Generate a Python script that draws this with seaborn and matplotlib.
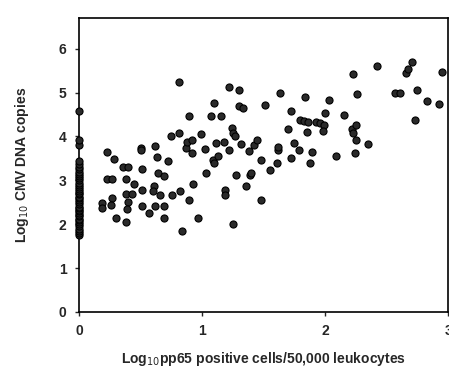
import numpy as np
import pandas as pd
import matplotlib.pyplot as plt
import seaborn as sns

# patients with no pp65 positive cells (x = 0)
zero_y = [1.75, 1.8, 1.85, 1.9, 1.95, 2.0, 2.05, 2.1, 2.12, 2.18, 2.2, 2.25, 2.3, 2.33,
          2.38, 2.4, 2.45, 2.5, 2.55, 2.6, 2.62, 2.68, 2.7, 2.75, 2.8, 2.85, 2.9, 2.95,
          3.0, 3.05, 3.1, 3.15, 3.2, 3.25, 3.3, 3.38, 3.45, 3.8, 3.92, 4.58]

pp65 = [0.225, 0.282, 0.23, 0.27, 0.19, 0.19, 0.268, 0.26, 0.30, 0.36, 0.40, 0.38, 0.38,
        0.38, 0.43, 0.40, 0.39, 0.45, 0.50, 0.50, 0.51, 0.51, 0.51, 0.57, 0.615, 0.634,
        0.645, 0.61, 0.60, 0.66, 0.62, 0.69, 0.69, 0.69, 0.72, 0.75, 0.756, 0.81, 0.81,
        0.82, 0.84, 0.87, 0.875, 0.89, 0.895, 0.92, 0.92, 0.925, 0.965, 0.995, 1.02, 1.03,
        1.07, 1.09, 1.10, 1.10, 1.11, 1.13, 1.157, 1.18, 1.19, 1.19, 1.22, 1.22, 1.24,
        1.25, 1.25, 1.27, 1.28, 1.30, 1.30, 1.33, 1.32, 1.36, 1.38, 1.42, 1.45, 1.39, 1.40,
        1.48, 1.48, 1.51, 1.55, 1.61, 1.62, 1.62, 1.63, 1.70, 1.72, 1.72, 1.75, 1.79, 1.84,
        1.80, 1.83, 1.86, 1.85, 1.88, 1.89, 1.93, 1.96, 1.99, 1.985, 2.0, 2.03, 2.09, 2.15,
        2.22, 2.23, 2.225, 2.24, 2.25, 2.255, 2.26, 2.35, 2.42, 2.57, 2.61, 2.66, 2.67,
        2.71, 2.73, 2.75, 2.83, 2.93, 2.95]
cmv = [3.64, 3.49, 3.02, 3.02, 2.48, 2.38, 2.60, 2.43, 2.14, 3.31, 3.31, 3.03, 2.06,
       2.68, 2.68, 2.50, 2.34, 2.92, 3.74, 3.68, 3.26, 2.79, 2.41, 2.25, 3.78, 3.54,
       3.16, 2.88, 2.76, 2.67, 2.41, 3.10, 2.41, 2.13, 3.45, 4.00, 2.66, 5.24, 4.07,
       2.76, 1.85, 3.73, 3.88, 2.55, 4.46, 3.93, 3.63, 2.92, 2.14, 4.05, 3.71, 3.17,
       4.46, 3.46, 3.39, 4.76, 3.86, 3.56, 4.46, 3.88, 2.78, 2.67, 5.12, 3.69, 4.20,
       4.07, 2.00, 4.02, 3.13, 5.06, 4.69, 4.64, 3.83, 2.88, 3.67, 3.80, 3.92, 3.12, 3.17,
       2.55, 3.46, 4.71, 3.23, 3.40, 3.70, 3.77, 5.00, 4.17, 3.52, 4.58, 3.86, 3.70, 4.90,
       4.37, 4.35, 4.32, 4.09, 3.39, 3.64, 4.33, 4.30, 4.26, 4.13, 4.53, 4.84, 3.55, 4.50,
       4.17, 4.07, 5.42, 3.63, 4.27, 3.93, 4.97, 3.82, 5.60, 5.00, 5.00, 5.45, 5.53,
       5.69, 4.37, 5.07, 4.81, 4.73, 5.47]

df = pd.DataFrame({"x": [0.0] * len(zero_y) + pp65, "y": zero_y + cmv})

sns.set_style("ticks")
plt.rcParams["font.family"] = ["Liberation Sans", "DejaVu Sans"]

fig = plt.figure(figsize=(4.49, 3.67), dpi=100)
ax = fig.add_axes([0.176, 0.15, 0.822, 0.801])
sns.scatterplot(data=df, x="x", y="y", ax=ax, s=26, color="#2a2a2a",
                edgecolor="black", linewidth=0.8, clip_on=False, zorder=3)

ax.set_xlim(0, 3)
ax.set_ylim(0, 6.7)
ax.set_xticks([0, 1, 2, 3])
ax.set_yticks([0, 1, 2, 3, 4, 5, 6])
ax.tick_params(axis="both", length=3, width=1, labelsize=10, pad=6)
for lab in ax.get_xticklabels() + ax.get_yticklabels():
    lab.set_fontweight("bold")
for sp in ax.spines.values():
    sp.set_visible(True)
    sp.set_linewidth(1.2)
    sp.set_color("black")

ax.set_xlabel("Log$_{10}$pp65 positive cells/50,000 leukocytes", fontsize=10,
              fontweight="bold", labelpad=8)
ax.set_ylabel("Log$_{10}$ CMV DNA copies", fontsize=10, fontweight="bold", labelpad=20)

fig.savefig("out.png", dpi=100)
